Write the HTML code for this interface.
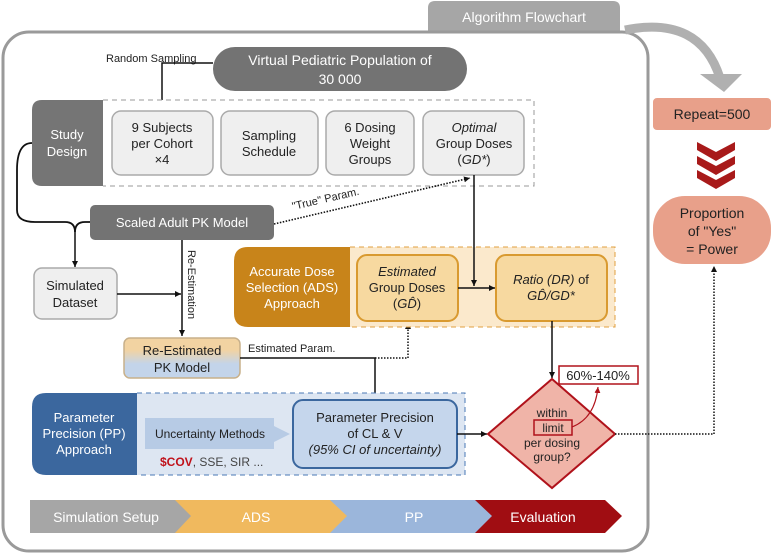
<!DOCTYPE html>
<html><head><meta charset="utf-8"><style>
html,body{margin:0;padding:0;background:#fff}
svg{display:block}
text{font-family:"Liberation Sans",sans-serif}
</style></head><body>
<svg width="780" height="555" viewBox="0 0 780 555" xmlns="http://www.w3.org/2000/svg">
<defs>
<marker id="ah" markerWidth="8" markerHeight="8" refX="6" refY="3" orient="auto" markerUnits="userSpaceOnUse"><path d="M0,0 L6,3 L0,6 z" fill="#111"/></marker>
<marker id="ahr" markerWidth="8" markerHeight="8" refX="6" refY="3" orient="auto" markerUnits="userSpaceOnUse"><path d="M0,0 L6,3 L0,6 z" fill="#b0121b"/></marker>
<linearGradient id="rg" x1="0" y1="0" x2="0" y2="1"><stop offset="0.3" stop-color="#f2d3a2"/><stop offset="0.65" stop-color="#c3d4ea"/></linearGradient>
</defs>
<!-- tab -->
<path d="M428,32 L428,8 Q428,1 435,1 L613,1 Q620,1 620,8 L620,32 Z" fill="#a6a6a6"/>
<text x="524" y="22" font-size="14" fill="#fff" text-anchor="middle">Algorithm Flowchart</text>
<!-- frame -->
<rect x="3" y="32" width="645" height="519" rx="26" fill="none" stroke="#9a9a9a" stroke-width="3"/>
<!-- curved arrow -->
<path d="M625,30 Q700,15 720,78" fill="none" stroke="#b0b0b0" stroke-width="9"/>
<path d="M700,74 L742,74 L724,92 Z" fill="#b0b0b0"/>
<!-- repeat -->
<rect x="652" y="97" width="120" height="34" rx="5" fill="#e8a08a" stroke="#fff" stroke-width="2"/>
<text x="712" y="119" font-size="14" fill="#222" text-anchor="middle">Repeat=500</text>
<g fill="#a81a1a">
<path d="M697,142 L716,152 L735,142 L735,150 L716,161 L697,150Z"/>
<path d="M697,156 L716,166 L735,156 L735,164 L716,175 L697,164Z"/>
<path d="M697,170 L716,180 L735,170 L735,178 L716,189 L697,178Z"/>
</g>
<rect x="652" y="195" width="120" height="70" rx="33" fill="#e8a08a" stroke="#fff" stroke-width="2"/>
<text x="712" y="218" font-size="14" fill="#222" text-anchor="middle">Proportion</text>
<text x="712" y="236" font-size="14" fill="#222" text-anchor="middle">of "Yes"</text>
<text x="712" y="254" font-size="14" fill="#222" text-anchor="middle">= Power</text>
<!-- virtual pop -->
<rect x="213" y="47" width="254" height="44" rx="22" fill="#737373"/>
<text x="340" y="65" font-size="14" fill="#fff" text-anchor="middle">Virtual Pediatric Population of</text>
<text x="340" y="84" font-size="14" fill="#fff" text-anchor="middle">30 000</text>
<text x="106" y="62" font-size="11" fill="#222">Random Sampling</text>
<path d="M213,63 L162,63 L162,109" fill="none" stroke="#111" stroke-width="1.5" marker-end="url(#ah)"/>
<!-- study design -->
<path d="M103,100 L534,100 L534,186 L103,186" fill="#fff" stroke="#999" stroke-dasharray="5,4"/>
<path d="M103,100 L42,100 Q32,100 32,110 L32,176 Q32,186 42,186 L103,186 Z" fill="#757575"/>
<text x="67" y="139" font-size="13" fill="#fff" text-anchor="middle">Study</text>
<text x="67" y="156" font-size="13" fill="#fff" text-anchor="middle">Design</text>
<g fill="#efefef" stroke="#aaa" stroke-width="1.5">
<rect x="112" y="111" width="101" height="64" rx="9"/>
<rect x="221" y="111" width="97" height="64" rx="9"/>
<rect x="326" y="111" width="88" height="64" rx="9"/>
<rect x="423" y="111" width="101" height="64" rx="9"/>
</g>
<g font-size="13" fill="#222" text-anchor="middle">
<text x="162" y="132">9 Subjects</text><text x="162" y="148">per Cohort</text><text x="162" y="164">×4</text>
<text x="269" y="140">Sampling</text><text x="269" y="156">Schedule</text>
<text x="370" y="132">6 Dosing</text><text x="370" y="148">Weight</text><text x="370" y="164">Groups</text>
<text x="474" y="132" font-style="italic">Optimal</text><text x="474" y="148">Group Doses</text><text x="474" y="164">(<tspan font-style="italic">GD*</tspan>)</text>
</g>
<!-- scaled adult -->
<path d="M32,143 Q17,143 17,170 L17,210 Q17,222 35,222 L65,222 Q75,222 75,232 M75,232 Q75,222 85,222 L90,222" fill="none" stroke="#111" stroke-width="1.8"/>
<path d="M75,230 L75,267" stroke="#111" stroke-width="1.5" marker-end="url(#ah)"/>
<rect x="90" y="205" width="184" height="35" rx="5" fill="#737373"/>
<text x="182" y="227" font-size="13" fill="#fff" text-anchor="middle">Scaled Adult PK Model</text>
<path d="M274,224 L470,178" stroke="#111" stroke-width="1.6" stroke-dasharray="1.5,1.5" fill="none" marker-end="url(#ah)"/>
<text x="293" y="210" font-size="11" fill="#222" transform="rotate(-13 293 210)">"True" Param.</text>
<!-- simulated -->
<rect x="34" y="268" width="83" height="51" rx="8" fill="#efefef" stroke="#aaa" stroke-width="1.5"/>
<text x="75" y="290" font-size="13" fill="#222" text-anchor="middle">Simulated</text>
<text x="75" y="307" font-size="13" fill="#222" text-anchor="middle">Dataset</text>
<path d="M117,294 L181,294" stroke="#111" stroke-width="1.5" marker-end="url(#ah)"/>
<path d="M182,240 L182,336" stroke="#111" stroke-width="1.5" marker-end="url(#ah)"/>
<text x="188" y="250" font-size="11" fill="#222" transform="rotate(90 188 250)">Re-Estimation</text>
<!-- re-estimated -->
<rect x="124" y="338" width="116" height="40" rx="6" fill="url(#rg)" stroke="#c8b08a" stroke-width="1.5"/>
<text x="182" y="355" font-size="13" fill="#222" text-anchor="middle">Re-Estimated</text>
<text x="182" y="372" font-size="13" fill="#222" text-anchor="middle">PK Model</text>
<text x="248" y="352" font-size="11" fill="#222">Estimated Param.</text>
<path d="M240,358 L375,358 L375,399" fill="none" stroke="#111" stroke-width="1.5" marker-end="url(#ah)"/>
<path d="M375,358 L408,358 L408,323" fill="none" stroke="#111" stroke-width="1.5" stroke-dasharray="1.5,1.5" marker-end="url(#ah)"/>
<!-- ADS -->
<path d="M350,247 L615,247 L615,327 L350,327" fill="#fbe9cc" stroke="#e0a040" stroke-dasharray="5,4"/>
<path d="M350,247 L248,247 Q234,247 234,261 L234,313 Q234,327 248,327 L350,327Z" fill="#c8841a"/>
<g font-size="13" fill="#fff" text-anchor="middle"><text x="292" y="276">Accurate Dose</text><text x="292" y="292">Selection (ADS)</text><text x="292" y="308">Approach</text></g>
<rect x="357" y="255" width="101" height="66" rx="10" fill="#f7d9a0" stroke="#d99a30" stroke-width="2"/>
<rect x="496" y="255" width="111" height="66" rx="10" fill="#f7d9a0" stroke="#d99a30" stroke-width="2"/>
<g font-size="13" fill="#222" text-anchor="middle">
<text x="407" y="276" font-style="italic">Estimated</text><text x="407" y="292">Group Doses</text><text x="407" y="308">(<tspan font-style="italic">GD̂</tspan>)</text>
<text x="551" y="284"><tspan font-style="italic">Ratio (DR)</tspan> of</text><text x="551" y="300" font-style="italic">GD̂/GD*</text>
</g>
<path d="M474,175 L474,286" stroke="#111" stroke-width="1.5" marker-end="url(#ah)"/>
<path d="M458,288 L495,288" stroke="#111" stroke-width="1.5" marker-end="url(#ah)"/>
<path d="M552,321 L552,378" stroke="#111" stroke-width="1.5" marker-end="url(#ah)"/>
<!-- PP -->
<path d="M137,393 L465,393 L465,475 L137,475" fill="#dde6f2" stroke="#4a78b5" stroke-dasharray="5,4"/>
<path d="M137,393 L46,393 Q32,393 32,407 L32,461 Q32,475 46,475 L137,475Z" fill="#3b679e"/>
<g font-size="13" fill="#fff" text-anchor="middle"><text x="84" y="422">Parameter</text><text x="84" y="438">Precision (PP)</text><text x="84" y="454">Approach</text></g>
<path d="M145,418 L274,418 L274,426 L290,434 L274,442 L274,449 L145,449Z" fill="#b7cbe5"/>
<text x="210" y="438" font-size="12" fill="#222" text-anchor="middle">Uncertainty Methods</text>
<text x="160" y="466" font-size="12" fill="#444"><tspan fill="#c0121b" font-weight="bold">$COV</tspan>, SSE, SIR ...</text>
<rect x="293" y="400" width="164" height="68" rx="10" fill="#c5d6ec" stroke="#3b679e" stroke-width="2"/>
<g font-size="13" fill="#222" text-anchor="middle"><text x="375" y="422">Parameter Precision</text><text x="375" y="438">of CL &amp; V</text><text x="375" y="454" font-style="italic">(95% CI of uncertainty)</text></g>
<path d="M457,434 L487,434" stroke="#111" stroke-width="1.5" marker-end="url(#ah)"/>
<!-- diamond -->
<path d="M552,379 L615,434 L552,488 L488,434Z" fill="#f0b4a8" stroke="#b0121b" stroke-width="2"/>
<g font-size="12" fill="#222" text-anchor="middle"><text x="552" y="417">within</text><text x="553" y="432">limit</text><text x="552" y="447">per dosing</text><text x="552" y="461">group?</text></g>
<rect x="534" y="420" width="38" height="15" fill="none" stroke="#b0121b" stroke-width="1.5"/>
<rect x="559" y="366" width="79" height="18" fill="#fff" stroke="#b0121b" stroke-width="1.5"/>
<text x="598" y="380" font-size="13" fill="#222" text-anchor="middle">60%-140%</text>
<path d="M572,427 Q595,418 598,387" fill="none" stroke="#b0121b" stroke-width="1.2" marker-end="url(#ahr)"/>
<path d="M615,434 L714,434 L714,266" fill="none" stroke="#111" stroke-width="1.5" stroke-dasharray="1.5,1.5" marker-end="url(#ah)"/>
<!-- bottom bar -->
<path d="M475,500 L605,500 L622,516 L605,533 L475,533Z" fill="#a00d12"/>
<path d="M330,500 L475,500 L492,516 L475,533 L330,533Z" fill="#9bb6db"/>
<path d="M175,500 L330,500 L347,516 L330,533 L175,533Z" fill="#f0b95e"/>
<path d="M30,500 L175,500 L191,516 L175,533 L30,533Z" fill="#a6a6a6"/>
<g font-size="14" fill="#fff" text-anchor="middle"><text x="106" y="522">Simulation Setup</text><text x="256" y="522">ADS</text><text x="414" y="522">PP</text><text x="543" y="522">Evaluation</text></g>
</svg>
</body></html>
